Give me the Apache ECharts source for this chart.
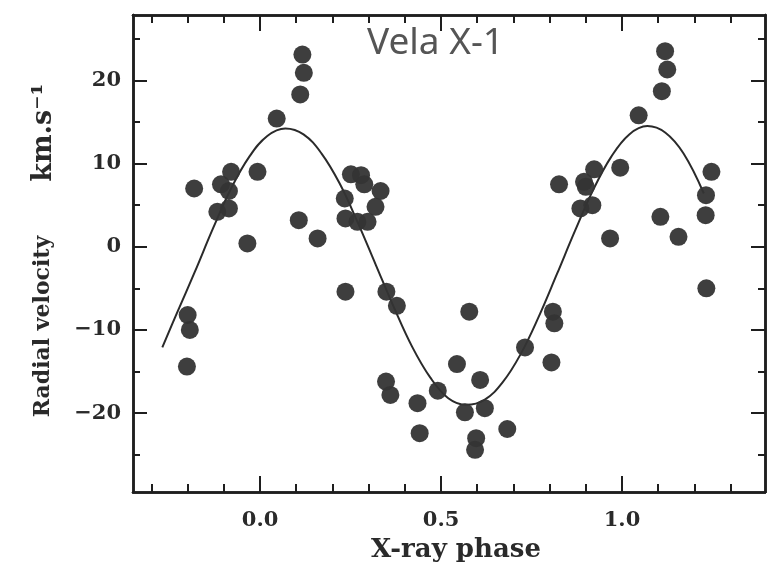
<!DOCTYPE html>
<html>
<head>
<meta charset="utf-8">
<script src="https://cdn.jsdelivr.net/npm/echarts@6/dist/echarts.min.js"></script>
<style>
  html, body { margin: 0; padding: 0; background: #ffffff; }
  #chart { width: 771px; height: 568px; }
</style>
</head>
<body>
<div id="chart"></div>
<script>
// Observed radial velocities (phase, km/s)
const obsPhase = [
  -0.200, -0.194, -0.202, -0.182, -0.080, -0.108, -0.086, -0.007, -0.118, -0.086, -0.035,
  0.117, 0.121, 0.111, 0.046, 0.107, 0.159,
  0.251, 0.279, 0.288, 0.333, 0.234, 0.319, 0.236, 0.269, 0.297,
  0.236, 0.349, 0.378, 0.348, 0.360, 0.435, 0.441, 0.491,
  0.578, 0.544, 0.608, 0.566, 0.621, 0.683, 0.597, 0.594,
  0.732, 0.809, 0.813, 0.805,
  0.826, 0.923, 0.995, 0.895, 0.900, 0.885, 0.918, 0.967,
  1.119, 1.125, 1.110, 1.046, 1.106, 1.156, 1.247, 1.232, 1.231, 1.233
];
const obsVel = [
  -8.2, -10.0, -14.4, 7.0, 9.0, 7.5, 6.7, 9.0, 4.2, 4.6, 0.4,
  23.1, 20.9, 18.3, 15.4, 3.2, 1.0,
  8.7, 8.6, 7.5, 6.7, 5.8, 4.8, 3.4, 3.0, 3.0,
  -5.4, -5.4, -7.1, -16.2, -17.8, -18.8, -22.4, -17.3,
  -7.8, -14.1, -16.0, -19.9, -19.4, -21.9, -23.0, -24.4,
  -12.1, -7.8, -9.2, -13.9,
  7.5, 9.3, 9.5, 7.8, 7.2, 4.6, 5.0, 1.0,
  23.5, 21.3, 18.7, 15.8, 3.6, 1.2, 9.0, 6.2, 3.8, -5.0
];
// Fitted curve
const curvePhase = [-0.27, -0.23, -0.18, -0.13, -0.08, -0.03, 0.02, 0.07, 0.12, 0.17, 0.22, 0.27,
  0.32, 0.37, 0.42, 0.47, 0.52, 0.57, 0.62, 0.67, 0.72, 0.77, 0.82, 0.87, 0.92, 0.97,
  1.02, 1.07, 1.12, 1.17, 1.226];
const curveVel = [-12.1, -8.0, -3.0, 2.2, 7.0, 10.8, 13.3, 14.2, 13.5, 11.2, 7.6, 2.9,
  -2.2, -7.3, -12.0, -15.7, -18.2, -19.0, -18.4, -16.3, -12.9, -8.4, -3.3, 1.9, 6.8, 10.8,
  13.5, 14.5, 13.7, 11.2, 6.4];

const xMajor = [0, 0.5, 1.0];
const xMinor = [-0.3, -0.2, -0.1, 0.1, 0.2, 0.3, 0.4, 0.6, 0.7, 0.8, 0.9, 1.1, 1.2, 1.3];
const yMajor = [-20, -10, 0, 10, 20];
const yMinor = [-25, -15, -5, 5, 15, 25];

const X_MIN = -0.351, X_MAX = 1.395, Y_MIN = -29.47, Y_MAX = 27.85;
const INK = '#1e1e1e';
const labelFont = { fontFamily: 'DejaVu Serif', fontWeight: 'bold', fontSize: 21, color: '#2a2a2a' };

function xAx(pos, ticks, len, labels) {
  return {
    type: 'value', position: pos, min: X_MIN, max: X_MAX,
    axisLine: { show: true, onZero: false, lineStyle: { color: INK, width: 2.5 } },
    axisTick: { show: true, inside: true, length: len, customValues: ticks, lineStyle: { color: INK, width: 2 } },
    axisLabel: labels ? Object.assign({ show: true, margin: 18, customValues: ticks,
      formatter: v => v.toFixed(1) }, labelFont) : { show: false },
    splitLine: { show: false }
  };
}
function yAx(pos, ticks, len, labels) {
  return {
    type: 'value', position: pos, min: Y_MIN, max: Y_MAX,
    axisLine: { show: true, onZero: false, lineStyle: { color: INK, width: 2.5 } },
    axisTick: { show: true, inside: true, length: len, customValues: ticks, lineStyle: { color: INK, width: 2 } },
    axisLabel: labels ? Object.assign({ show: true, margin: 12, customValues: ticks,
      formatter: v => String(v).replace('-', '\u2212') }, labelFont) : { show: false },
    splitLine: { show: false }
  };
}

const xAxes = [xAx('bottom', xMajor, 16, true), xAx('bottom', xMinor, 8, false),
               xAx('top', xMajor, 16, false), xAx('top', xMinor, 8, false)];
xAxes[0].name = 'X-ray phase';
xAxes[0].nameLocation = 'middle';
xAxes[0].nameGap = 45;
xAxes[0].nameTextStyle = { fontFamily: 'DejaVu Serif', fontWeight: 'bold', fontSize: 26, color: '#2a2a2a', padding: [0, 0, 0, 14] };

const yAxes = [yAx('left', yMajor, 14, true), yAx('left', yMinor, 7, false),
               yAx('right', yMajor, 14, false), yAx('right', yMinor, 7, false)];
yAxes[0].name = '{a|Radial velocity}{b|km.s\u207B\u00B9}';
yAxes[0].nameLocation = 'middle';
yAxes[0].nameRotate = 90;
yAxes[0].nameGap = 76;
yAxes[0].nameTextStyle = {
  fontFamily: 'DejaVu Serif', fontWeight: 'bold', fontSize: 22, color: '#2a2a2a',
  padding: [0, 0, 0, 6],
  rich: {
    a: { fontFamily: 'DejaVu Serif', fontWeight: 'bold', fontSize: 22, color: '#2a2a2a' },
    b: { fontFamily: 'DejaVu Serif', fontWeight: 'bold', fontSize: 27, color: '#2a2a2a', padding: [0, 0, 0, 54] }
  }
};

const chart = echarts.init(document.getElementById('chart'), null, { renderer: 'canvas' });
chart.setOption({
  backgroundColor: '#ffffff',
  animation: false,
  title: {
    text: 'Vela X-1', left: 362, top: 20,
    textStyle: { fontFamily: 'Noto Sans', fontWeight: 'normal', fontSize: 37, color: '#555555' }
  },
  grid: { left: 133, right: 6, top: 15, bottom: 73, containLabel: false },
  xAxis: xAxes,
  yAxis: yAxes,
  series: [
    {
      type: 'line', xAxisIndex: 0, yAxisIndex: 0,
      data: curvePhase.map((p, i) => [p, curveVel[i]]),
      smooth: 0.4, showSymbol: false, symbol: 'none',
      lineStyle: { color: '#2a2a2a', width: 2 }, z: 2
    },
    {
      type: 'scatter', xAxisIndex: 0, yAxisIndex: 0,
      data: obsPhase.map((p, i) => [p, obsVel[i]]),
      symbol: 'circle', symbolSize: 18,
      itemStyle: { color: '#343434', opacity: 0.95 }, z: 3
    }
  ]
});
</script>
</body>
</html>
